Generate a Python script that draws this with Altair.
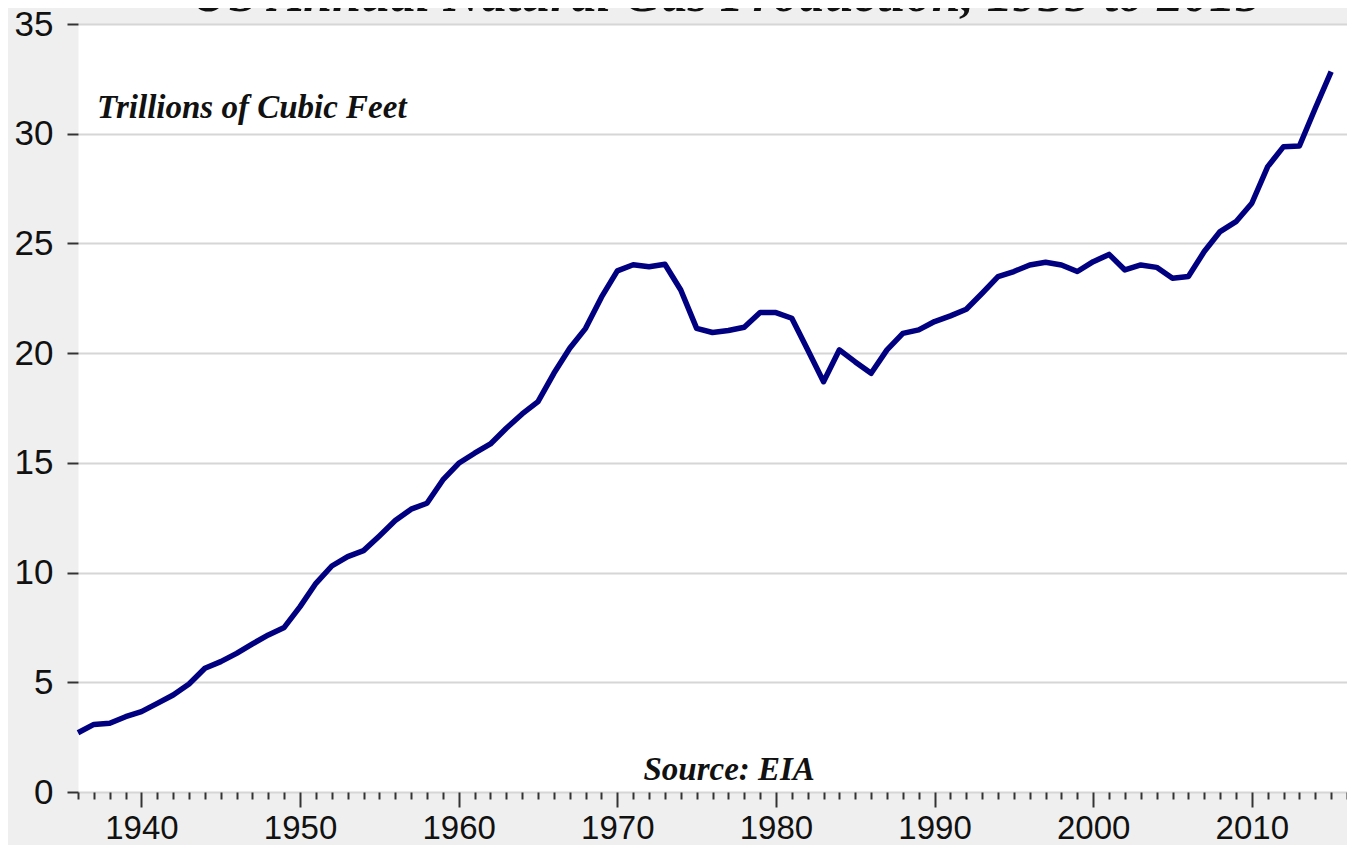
import altair as alt
import pandas as pd

years = list(range(1936, 2016))
production = [2.70, 3.08, 3.13, 3.43, 3.66, 4.04, 4.42, 4.92, 5.64, 5.94,
              6.32, 6.75, 7.16, 7.50, 8.45, 9.51, 10.30, 10.73, 11.00, 11.67,
              12.37, 12.89, 13.16, 14.22, 14.98, 15.44, 15.86, 16.58, 17.23, 17.79,
              19.08, 20.22, 21.13, 22.55, 23.75, 24.03, 23.94, 24.05, 22.88, 21.13,
              20.94, 21.03, 21.18, 21.85, 21.85, 21.59, 20.15, 18.70, 20.15, 19.60,
              19.08, 20.15, 20.90, 21.06, 21.44, 21.70, 22.00, 22.73, 23.49, 23.72,
              24.02, 24.14, 24.02, 23.72, 24.17, 24.50, 23.79, 24.02, 23.91, 23.41,
              23.49, 24.63, 25.54, 25.99, 26.83, 28.50, 29.41, 29.44, 31.16, 32.83]

tick_years = list(range(1936, 2017))
y_ticks = [0, 5, 10, 15, 20, 25, 30, 35]

title_text = ["US Annual Natural Gas Production, 1935 to 2015"]
title_x = [1976.86]
title_y = [35.59]

unit_text = ["Trillions of Cubic Feet"]
unit_x = [1937.2]
unit_y = [30.7]

source_text = ["Source: EIA"]
source_x = [1977.05]
source_y = [0.55]

df = pd.DataFrame({"year": years, "value": production})
df_title = pd.DataFrame({"x": title_x, "y": title_y, "t": title_text})
df_unit = pd.DataFrame({"x": unit_x, "y": unit_y, "t": unit_text})
df_source = pd.DataFrame({"x": source_x, "y": source_y, "t": source_text})

x_scale = alt.Scale(domain=[1936, 2016], nice=False, zero=False)
y_scale = alt.Scale(domain=[0, 35], nice=False)

x_axis = alt.Axis(
    values=tick_years,
    title=None,
    grid=False,
    domain=False,
    tickSize={"condition": {"test": "datum.value % 10 === 0", "value": 15}, "value": 7},
    tickWidth=2,
    tickColor="#333333",
    labelExpr="datum.value % 10 === 0 ? datum.label : ''",
    labelOverlap=False,
    labelFlush=False,
    labelFont="Liberation Sans",
    labelFontSize=33,
    labelColor="#111111",
    labelPadding=5,
    format="d",
)
y_axis = alt.Axis(
    values=y_ticks,
    title=None,
    grid=True,
    gridColor="#d6d6d6",
    gridWidth=2,
    domain=False,
    tickSize=11,
    tickWidth=2,
    tickColor="#333333",
    labelFont="Liberation Sans",
    labelFontSize=35,
    labelColor="#111111",
    labelPadding=14,
)

line = alt.Chart(df).mark_line(color="#000080", strokeWidth=5.5, strokeJoin="round").encode(
    x=alt.X("year:Q", scale=x_scale, axis=x_axis),
    y=alt.Y("value:Q", scale=y_scale, axis=y_axis),
)

def text_layer(d, align, size):
    return alt.Chart(d).mark_text(
        align=align,
        baseline="alphabetic",
        font="Liberation Serif",
        fontStyle="italic",
        fontWeight="bold",
        fontSize=size,
        color="#111111",
    ).encode(
        x=alt.X("x:Q", scale=x_scale, axis=x_axis),
        y=alt.Y("y:Q", scale=y_scale, axis=y_axis),
        text="t:N",
    )

chart = alt.layer(
    line,
    text_layer(df_unit, "left", 33),
    text_layer(df_source, "center", 33),
    text_layer(df_title, "center", 52),
).properties(
    width=1269,
    height=768,
    padding={"left": 70, "top": 16, "right": 0, "bottom": 53},
    autosize=alt.AutoSizeParams(type="none"),
    background="#efefef",
).configure_view(
    fill="white",
    stroke="transparent",
)

chart.save("out.html", embed_options={"renderer": "svg", "actions": False})
